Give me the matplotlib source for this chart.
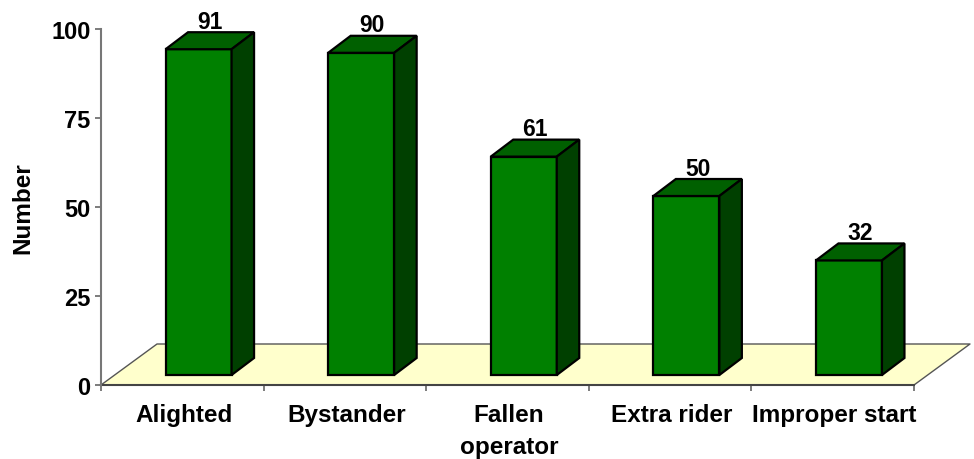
import numpy as np
import matplotlib
matplotlib.use("Agg")
import matplotlib.pyplot as plt
from matplotlib.patches import Polygon

categories = ["Alighted", "Bystander", "Fallen\noperator", "Extra rider", "Improper start"]
values = [91, 90, 61, 50, 32]
y_ticks = [0, 25, 50, 75, 100]

plt.rcParams['font.family'] = ['Liberation Sans', 'DejaVu Sans']
plt.rcParams['font.weight'] = 'bold'

W, H = 974, 460
fig = plt.figure(figsize=(W / 100, H / 100), dpi=100)
ax = fig.add_axes([101 / W, (H - 386) / H, 813 / W, 356 / H])
ax.set_xlim(0, 5)
ax.set_ylim(0, 100)

# pixel sizes turned into data units
px_x = 5 / 813
px_y = 100 / 356
depth_x = 22.5 * px_x
depth_y = 17 * px_y
floor_dx = 56 * px_x
floor_dy = 41 * px_y
base = 10 * px_y
scale = 3.58 / 3.56
bar_w = 66 * px_x
offset = 0.1

# floor
floor = Polygon([(0, 0), (5, 0), (5 + floor_dx, floor_dy), (floor_dx, floor_dy)],
                closed=True, facecolor="#FFFFCC", edgecolor="none", clip_on=False, zorder=1)
ax.add_patch(floor)
ax.plot([0, floor_dx, 5 + floor_dx, 5], [0, floor_dy, floor_dy, 0], color="#555555",
        linewidth=1.0, clip_on=False, zorder=1.5)

x = np.arange(5) + 0.5 + offset
heights = np.array(values) * scale
ax.bar(x, heights, bar_w, bottom=base, color="#008000", edgecolor="black", linewidth=1.6,
       clip_on=False, zorder=3)

for i in range(5):
    l = x[i] - bar_w / 2
    r = x[i] + bar_w / 2
    top = base + heights[i]
    ax.add_patch(Polygon([(l, top), (r, top), (r + depth_x, top + depth_y), (l + depth_x, top + depth_y)],
                         closed=True, facecolor="#006000", edgecolor="black", linewidth=1.6,
                         clip_on=False, zorder=3))
    ax.add_patch(Polygon([(r, base), (r + depth_x, base + depth_y), (r + depth_x, top + depth_y), (r, top)],
                         closed=True, facecolor="#004000", edgecolor="black", linewidth=1.6,
                         clip_on=False, zorder=3))
    ax.annotate(str(values[i]), (x[i] + depth_x / 2, top + depth_y), xytext=(0, -0.5),
                textcoords="offset points", ha="center", va="bottom", fontsize=16.5,
                fontweight="bold", annotation_clip=False, zorder=4)

for s in ["top", "right"]:
    ax.spines[s].set_visible(False)
ax.spines["left"].set_color("#777777")
ax.spines["left"].set_linewidth(1.5)
ax.spines["bottom"].set_color("#444444")
ax.spines["bottom"].set_linewidth(1.5)
ax.spines["bottom"].set_zorder(2)
ax.patch.set_alpha(0)

ax.set_yticks(y_ticks)
ax.set_xticks(np.arange(6))
ax.set_xticklabels([])
ax.tick_params(axis="y", length=4.5, width=1.2, color="#666666", labelsize=17, pad=3)
ax.tick_params(axis="x", length=4.5, width=1.2, color="#666666")
ax.set_xticks(np.arange(5) + 0.5 + 0.008, categories, minor=True)
ax.tick_params(axis="x", which="minor", length=0, labelsize=17.5, pad=13)
for t in ax.get_xticklabels(minor=True):
    t.set_fontweight("bold")
    t.set_linespacing(1.5)
ax.set_ylabel("Number", fontsize=17.5, fontweight="bold", labelpad=12)

fig.savefig("out.png", dpi=100)
